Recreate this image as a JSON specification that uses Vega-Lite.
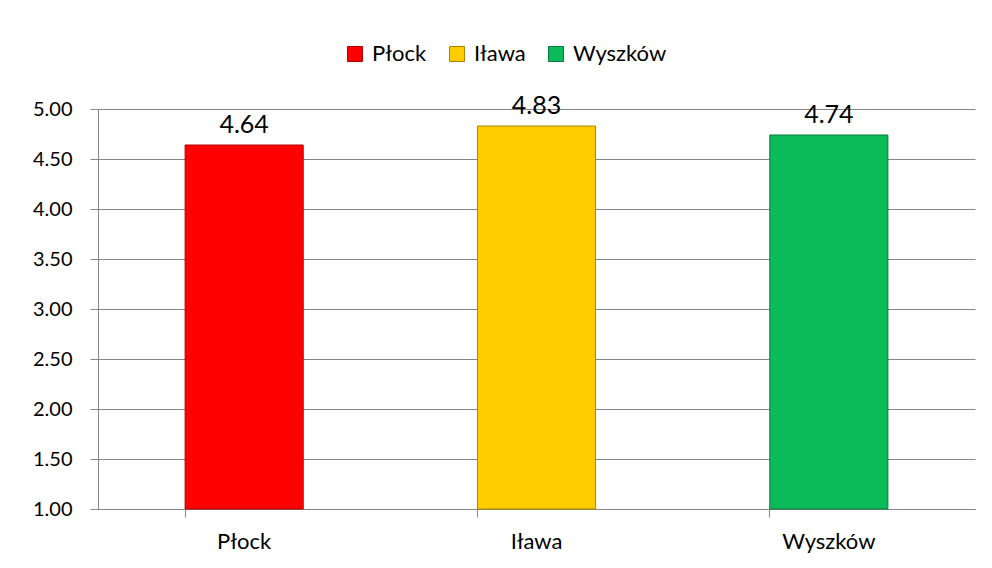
{
  "$schema": "https://vega.github.io/schema/vega-lite/v6.json",
  "autosize": {"type": "none"},
  "width": 877,
  "height": 400,
  "padding": {"left": 98, "top": 109, "right": 17, "bottom": 59},
  "background": "white",
  "config": {
    "font": "Lato",
    "view": {"stroke": null},
    "axis": {"labelFont": "Lato", "labelColor": "#000000", "domainColor": "#868686", "tickColor": "#868686", "gridColor": "#868686"}
  },
  "data": {
    "values": [
      {"city": "Płock", "value": 4.64},
      {"city": "Iława", "value": 4.83},
      {"city": "Wyszków", "value": 4.74}
    ]
  },
  "encoding": {
    "x": {
      "field": "city",
      "type": "nominal",
      "sort": null,
      "scale": {"paddingInner": 0.596, "paddingOuter": 0.298},
      "axis": {
        "title": null,
        "labelAngle": 0,
        "labelFontSize": 22,
        "labelPadding": 14,
        "tickSize": 8,
        "bandPosition": 0,
        "domainWidth": 1,
        "grid": false
      }
    }
  },
  "layer": [
    {
      "mark": {"type": "bar", "strokeWidth": 1},
      "encoding": {
        "y": {
          "field": "value",
          "type": "quantitative",
          "scale": {"domain": [1, 5], "zero": false, "nice": false},
          "axis": {
            "title": null,
            "values": [1, 1.5, 2, 2.5, 3, 3.5, 4, 4.5, 5],
            "format": ".2f",
            "labelFontSize": 20,
            "labelPadding": 18,
            "tickSize": 8,
            "grid": true,
            "gridWidth": 1,
            "domainWidth": 1
          }
        },
        "y2": {"datum": 1},
        "fill": {
          "field": "city",
          "type": "nominal",
          "sort": null,
          "scale": {"domain": ["Płock", "Iława", "Wyszków"], "range": ["#FF0000", "#FFCC00", "#0BBA58"]},
          "legend": {
            "title": null,
            "orient": "none",
            "direction": "horizontal",
            "legendX": 246,
            "legendY": -66,
            "symbolType": "square",
            "symbolSize": 225,
            "symbolStrokeWidth": 1,
            "labelFontSize": 22,
            "labelFont": "Lato",
            "labelColor": "#000000",
            "labelOffset": 6,
            "columnPadding": 19
          }
        },
        "stroke": {
          "field": "city",
          "type": "nominal",
          "sort": null,
          "scale": {"domain": ["Płock", "Iława", "Wyszków"], "range": ["#B00000", "#A88400", "#067A39"]},
          "legend": null
        }
      }
    },
    {
      "mark": {"type": "text", "baseline": "alphabetic", "dy": -12, "fontSize": 25, "color": "#000000", "font": "Lato"},
      "encoding": {
        "y": {"field": "value", "type": "quantitative"},
        "text": {"field": "value", "type": "quantitative", "format": ".2f"}
      }
    }
  ]
}
